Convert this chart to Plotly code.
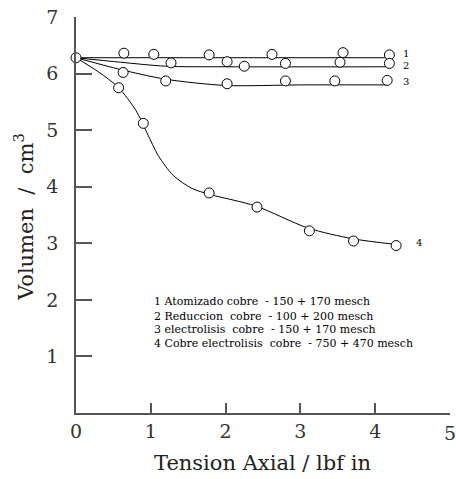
import plotly.graph_objects as go

# Data points
s1_x = [0, 0.64, 1.04, 1.78, 2.62, 3.57, 4.19]
s1_y = [6.28, 6.36, 6.34, 6.33, 6.34, 6.37, 6.33]
s2_x = [1.27, 2.02, 2.25, 2.80, 3.53, 4.19]
s2_y = [6.19, 6.21, 6.13, 6.18, 6.20, 6.18]
s3_x = [0.63, 1.20, 2.02, 2.80, 3.46, 4.16]
s3_y = [6.02, 5.87, 5.82, 5.87, 5.87, 5.88]
s4_x = [0.57, 0.90, 1.78, 2.42, 3.12, 3.71, 4.28]
s4_y = [5.75, 5.12, 3.89, 3.64, 3.22, 3.04, 2.96]

# Fitted curves
c1_x = [0, 4.2]
c1_y = [6.28, 6.28]
c2_x = [0, 0.6, 1.2, 2.0, 4.2]
c2_y = [6.28, 6.20, 6.13, 6.12, 6.12]
c3_x = [0, 0.6, 1.2, 2.0, 3.0, 4.15]
c3_y = [6.28, 6.07, 5.90, 5.79, 5.80, 5.80]
c4_x = [0, 0.3, 0.57, 0.8, 0.95, 1.1, 1.3, 1.55, 1.8, 2.4, 3.1, 3.7, 4.28]
c4_y = [6.28, 6.03, 5.75, 5.35, 4.95, 4.55, 4.2, 3.97, 3.86, 3.66, 3.27, 3.08, 2.98]

curve_labels = ["1", "2", "3", "4"]
curve_label_x = [4.41, 4.41, 4.41, 4.59]
curve_label_y = [6.36, 6.15, 5.86, 3.02]

legend_lines = [
    "1 Atomizado cobre&nbsp; - 150 + 170 mesch",
    "2 Reduccion&nbsp; cobre&nbsp; - 100 + 200 mesch",
    "3 electrolisis&nbsp; cobre&nbsp; - 150 + 170 mesch",
    "4 Cobre electrolisis&nbsp; cobre&nbsp; - 750 + 470 mesch",
]
legend_y = [1.97, 1.71, 1.48, 1.22]
legend_x = 1.01

x_ticks = [0, 1, 2, 3, 4, 5]
y_ticks = [1, 2, 3, 4, 5, 6, 7]

SERIF = "DejaVu Serif"

W, H = 456, 479
ML, MT, MR, MB = 76, 17, 6, 66
PW = W - ML - MR
PH = H - MT - MB

fig = go.Figure()
for cx, cy in [(c1_x, c1_y), (c2_x, c2_y), (c3_x, c3_y), (c4_x, c4_y)]:
    fig.add_trace(go.Scatter(x=cx, y=cy, mode="lines", line=dict(color="black", width=1, shape="spline", smoothing=0.8),
                             hoverinfo="skip", showlegend=False))
for sx, sy in [(s1_x, s1_y), (s2_x, s2_y), (s3_x, s3_y), (s4_x, s4_y)]:
    fig.add_trace(go.Scatter(x=sx, y=sy, mode="markers",
                             marker=dict(symbol="circle", size=10, color="white", line=dict(color="black", width=1)),
                             cliponaxis=False, showlegend=False))

for t, x, y in zip(curve_labels, curve_label_x, curve_label_y):
    fig.add_annotation(x=x, y=y, xref="x", yref="y", text=t, showarrow=False,
                       font=dict(family=SERIF, size=10, color="black"), xanchor="center", yanchor="middle")
for t, y in zip(legend_lines, legend_y):
    fig.add_annotation(x=legend_x, y=y, xref="x", yref="y", text=t, showarrow=False,
                       font=dict(family=SERIF, size=11, color="black"), xanchor="left", yanchor="middle")

# last x tick label sits at the page edge (partly cut in the reference)
fig.add_annotation(x=x_ticks[-1], y=-20 / PH, xref="x", yref="paper", text=str(x_ticks[-1]),
                   showarrow=False, font=dict(family=SERIF, size=19, color="#333"),
                   xanchor="center", yanchor="middle")

# axis titles
fig.add_annotation(x=(24 - ML) / PW, y=(413 - 217) / PH, xref="paper", yref="paper",
                   text="Volumen&nbsp; /&nbsp; cm<sup>3</sup>",
                   textangle=-90, showarrow=False, font=dict(family=SERIF, size=21, color="#222"),
                   xanchor="center", yanchor="middle")
fig.add_annotation(x=(262 - ML) / PW, y=(413 - 463) / PH, xref="paper", yref="paper", text="Tension Axial / lbf in",
                   showarrow=False, font=dict(family=SERIF, size=21, color="#222"),
                   xanchor="center", yanchor="middle")

fig.update_xaxes(range=[0, 5], tickvals=x_ticks, showgrid=False, zeroline=False, showline=True,
                 linecolor="#555", linewidth=1.5, ticks="inside", ticklen=10, tickcolor="#555", tickwidth=1.5,
                 tickfont=dict(family=SERIF, size=19, color="#333"), ticklabelstandoff=0)
fig.update_yaxes(range=[0, 7], tickvals=y_ticks, showgrid=False, zeroline=False, showline=True,
                 linecolor="#555", linewidth=1.5, ticks="inside", ticklen=16, tickcolor="#555", tickwidth=1.5,
                 tickfont=dict(family=SERIF, size=19, color="#333"), ticklabelstandoff=12)

fig.update_layout(width=W, height=H, margin=dict(l=ML, r=MR, t=MT, b=MB),
                  plot_bgcolor="white", paper_bgcolor="white", showlegend=False)

fig.write_html("out.html", config={"displayModeBar": False},
               post_script="document.body.style.margin='0';")
